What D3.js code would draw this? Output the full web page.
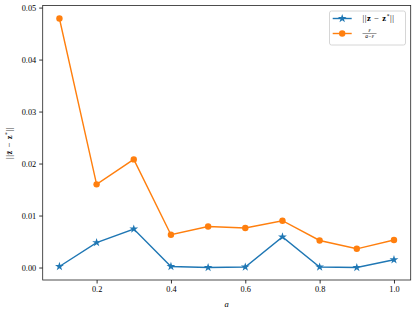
<!DOCTYPE html>
<html>
<head>
<meta charset="utf-8">
<script src="https://cdn.jsdelivr.net/npm/d3@7"></script>
<style>
  body { margin: 0; background: #fff; }
  #chart-container { width: 416px; height: 312px; }
  text { font-family: "Liberation Serif", "DejaVu Serif", serif; }
</style>
</head>
<body>
<div id="chart-container"></div>
<script>
// values
const aValues = [0.1, 0.2, 0.3, 0.4, 0.5, 0.6, 0.7, 0.8, 0.9, 1.0];
const normValues = [0.0002, 0.0048, 0.0074, 0.0002, 0.0000, 0.0001, 0.0059, 0.0001, 0.0000, 0.0015];
const ratioValues = [0.0479, 0.0160, 0.0208, 0.0063, 0.0079, 0.0076, 0.0090, 0.0052, 0.0036, 0.0053];
const xTicks = [0.2, 0.4, 0.6, 0.8, 1.0];
const yTicks = [0.00, 0.01, 0.02, 0.03, 0.04, 0.05];

const width = 416;
const height = 312;
const margin = { top: 5.5, right: 5.3, bottom: 32, left: 42.7 };

const svg = d3
    .select("#chart-container")
    .append("svg")
    .attr("width", width)
    .attr("height", height);

const xScale = d3
    .scaleLinear()
    .domain([0.055, 1.045])
    .range([margin.left, width - margin.right]);

const yScale = d3
    .scaleLinear()
    .domain([-0.0024, 0.0504])
    .range([height - margin.bottom, margin.top]);

// Axes
const xAxis = svg
    .append("g")
    .attr("transform", `translate(0, ${height - margin.bottom})`)
    .call(d3.axisBottom(xScale).tickValues(xTicks).tickFormat(d3.format(".1f")).tickSizeOuter(0).tickSize(3.5).tickPadding(3));

const yAxis = svg
    .append("g")
    .attr("transform", `translate(${margin.left}, 0)`)
    .call(d3.axisLeft(yScale).tickValues(yTicks).tickFormat(d3.format(".2f")).tickSizeOuter(0).tickSize(3.5).tickPadding(3));

[xAxis, yAxis].forEach((g) => {
    g.select(".domain").remove();
    g.selectAll("line").attr("stroke", "#000").attr("stroke-width", 0.8);
    g.selectAll("text").attr("font-size", 8.3).attr("fill", "#000")
        .style("font-family", "'Liberation Serif', serif");
});

// frame
svg
    .append("rect")
    .attr("x", margin.left)
    .attr("y", margin.top)
    .attr("width", width - margin.right - margin.left)
    .attr("height", height - margin.bottom - margin.top)
    .attr("fill", "none")
    .attr("stroke", "#222")
    .attr("stroke-width", 0.8);

const series = [
    { values: normValues, color: "#1f77b4", marker: "star" },
    { values: ratioValues, color: "#ff7f0e", marker: "circle" },
];

const line = d3
    .line()
    .x((d) => xScale(d.a))
    .y((d) => yScale(d.v));

const starPath = d3.symbol().type(d3.symbolStar).size(24)();

series.forEach((s) => {
    const pts = aValues.map((a, i) => ({ a: a, v: s.values[i] }));
    svg
        .append("path")
        .datum(pts)
        .attr("d", line)
        .attr("fill", "none")
        .attr("stroke", s.color)
        .attr("stroke-width", 1.4);

    if (s.marker === "circle") {
        svg
            .selectAll(null)
            .data(pts)
            .enter()
            .append("circle")
            .attr("cx", (d) => xScale(d.a))
            .attr("cy", (d) => yScale(d.v))
            .attr("r", 3.2)
            .attr("fill", s.color);
    } else {
        svg
            .selectAll(null)
            .data(pts)
            .enter()
            .append("path")
            .attr("d", starPath)
            .attr("transform", (d) => `translate(${xScale(d.a)}, ${yScale(d.v)})`)
            .attr("fill", s.color);
    }
});

// X label
svg
    .append("text")
    .attr("x", (margin.left + width - margin.right) / 2)
    .attr("y", 307)
    .attr("text-anchor", "middle")
    .attr("font-size", 8.5)
    .attr("font-style", "italic")
    .text("a");

// norm label ||z̄ − z*||, used on the y axis and in the legend
function normLabel(text) {
    text.attr("font-size", 8.5).attr("letter-spacing", 0.6);
    text.append("tspan").text("||");
    text.append("tspan").attr("font-weight", "bold").text("z\u0304");
    text.append("tspan").text(" \u2212 ");
    text.append("tspan").attr("font-weight", "bold").text("z");
    text.append("tspan").attr("font-size", 5.5).attr("dy", -3).text("*");
    text.append("tspan").attr("dy", 3).text("||");
}

// Y label
svg
    .append("text")
    .attr("transform", "translate(11.5, 143) rotate(-90)")
    .attr("text-anchor", "middle")
    .call(normLabel);

// Legend
const legend = svg.append("g");
legend
    .append("rect")
    .attr("x", 329.5)
    .attr("y", 11)
    .attr("width", 76)
    .attr("height", 34)
    .attr("rx", 2)
    .attr("fill", "#fff")
    .attr("fill-opacity", 0.8)
    .attr("stroke", "#ccc")
    .attr("stroke-width", 0.8);

const rowsY = [18.5, 33.5];
series.forEach((s, i) => {
    legend
        .append("line")
        .attr("x1", 332.7)
        .attr("x2", 351.7)
        .attr("y1", rowsY[i])
        .attr("y2", rowsY[i])
        .attr("stroke", s.color)
        .attr("stroke-width", 1.4);
    if (s.marker === "circle") {
        legend.append("circle").attr("cx", 342.2).attr("cy", rowsY[i]).attr("r", 3.2).attr("fill", s.color);
    } else {
        legend.append("path").attr("d", starPath)
            .attr("transform", `translate(342.2, ${rowsY[i]})`).attr("fill", s.color);
    }
});

legend
    .append("text")
    .attr("x", 362.5)
    .attr("y", rowsY[0] + 2.9)
    .call(normLabel);

// fraction epsilon / (a - epsilon)
legend
    .append("text")
    .attr("x", 369.5)
    .attr("y", rowsY[1] - 1.3)
    .attr("text-anchor", "middle")
    .attr("font-size", 5.5)
    .attr("font-style", "italic")
    .text("\u03b5");
legend
    .append("line")
    .attr("x1", 362.5)
    .attr("x2", 376.5)
    .attr("y1", rowsY[1])
    .attr("y2", rowsY[1])
    .attr("stroke", "#000")
    .attr("stroke-width", 0.4);
legend
    .append("text")
    .attr("x", 369.5)
    .attr("y", rowsY[1] + 4.8)
    .attr("text-anchor", "middle")
    .attr("font-size", 5.5)
    .attr("font-style", "italic")
    .text("a\u2212\u03b5");
</script>
</body>
</html>
